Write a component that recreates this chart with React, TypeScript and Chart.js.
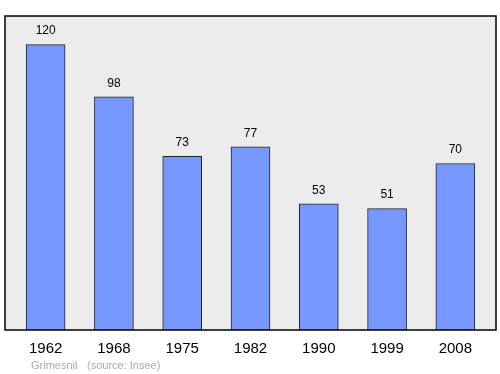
import React, { useEffect, useRef } from "react";
import { Chart, registerables } from "chart.js";

Chart.register(...registerables);

const years = ["1962", "1968", "1975", "1982", "1990", "1999", "2008"];
const population = [120, 98, 73, 77, 53, 51, 70];
const footerName = "Grimesnil";
const footerSource = "(source: Insee)";

const FONT = "'Liberation Sans', Arial, sans-serif";

const framePlugin = {
  id: "frame",
  beforeDraw(chart: any) {
    const { ctx, chartArea } = chart;
    const l = chartArea.left - 6.5;
    const r = chartArea.right + 6.5;
    ctx.save();
    ctx.fillStyle = "#ececec";
    ctx.fillRect(l, chartArea.top, r - l, chartArea.bottom - chartArea.top);
    ctx.restore();
  },
  afterDatasetsDraw(chart: any) {
    const { ctx, chartArea } = chart;
    const l = chartArea.left - 6.5;
    const r = chartArea.right + 6.5;
    ctx.save();
    ctx.strokeStyle = "#000";
    ctx.lineWidth = 1.5;
    ctx.strokeRect(l, chartArea.top, r - l, chartArea.bottom - chartArea.top);
    const meta = chart.getDatasetMeta(0);
    ctx.fillStyle = "#000";
    ctx.font = `12px ${FONT}`;
    ctx.textAlign = "center";
    ctx.textBaseline = "middle";
    meta.data.forEach((bar: any, i: number) => {
      ctx.fillText(String(population[i]), bar.x, bar.y - 13.5);
    });
    ctx.fillStyle = "#aaaaaa";
    ctx.font = `11px ${FONT}`;
    ctx.textAlign = "left";
    ctx.fillText(footerName, 31, 366);
    ctx.fillText(footerSource, 87, 366);
    ctx.restore();
  },
};

export default function App() {
  const ref = useRef<HTMLCanvasElement>(null);
  useEffect(() => {
    document.body.style.margin = "0";
    const chart = new Chart(ref.current!, {
      type: "bar",
      data: {
        labels: years,
        datasets: [
          {
            data: population,
            backgroundColor: "#7799ff",
            borderColor: "#222",
            borderWidth: 1,
            barThickness: 39,
          },
        ],
      },
      options: {
        animation: false,
        responsive: false,
        layout: { padding: { left: 11.5, right: 10.5, top: 16, bottom: 6 } },
        plugins: { legend: { display: false }, tooltip: { enabled: false } },
        scales: {
          x: {
            grid: { display: false, drawTicks: false },
            border: { display: false },
            ticks: { color: "#000", font: { size: 15, family: FONT }, padding: 10 },
          },
          y: { display: false, min: 0, max: 132 },
        },
      },
      plugins: [framePlugin],
    });
    return () => chart.destroy();
  }, []);
  return <canvas ref={ref} width={500} height={374} style={{ display: "block" }} />;
}
